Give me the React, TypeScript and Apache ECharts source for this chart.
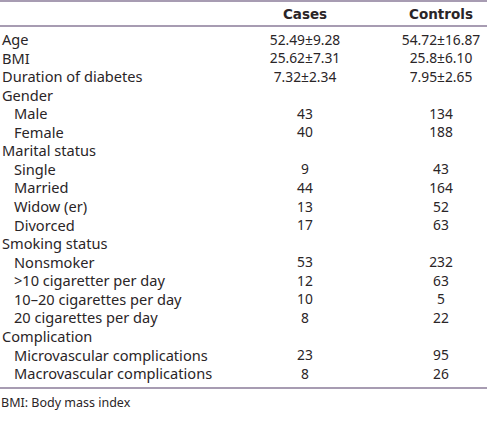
import React, { useEffect, useRef } from "react";
import * as echarts from "echarts";

const headers = ["", "Cases", "Controls"];
const rowLabels = [
  "Age", "BMI", "Duration of diabetes", "Gender", "Male", "Female",
  "Marital status", "Single", "Married", "Widow (er)", "Divorced",
  "Smoking status", "Nonsmoker", ">10 cigaretter per day", "10–20 cigarettes per day",
  "20 cigarettes per day", "Complication", "Microvascular complications", "Macrovascular complications",
];
const indented = [false, false, false, false, true, true, false, true, true, true, true, false, true, true, true, true, false, true, true];
const casesValues = ["52.49±9.28", "25.62±7.31", "7.32±2.34", "", "43", "40", "", "9", "44", "13", "17", "", "53", "12", "10", "8", "", "23", "8"];
const controlsValues = ["54.72±16.87", "25.8±6.10", "7.95±2.65", "", "134", "188", "", "43", "164", "52", "63", "", "232", "63", "5", "22", "", "95", "26"];
const footnote = "BMI: Body mass index";

export default function App() {
  const ref = useRef<HTMLDivElement>(null);
  useEffect(() => {
    document.body.style.margin = "0";
    const chart = echarts.init(ref.current!, null, { renderer: "svg" });
    const font = '"Noto Sans", sans-serif';
    const boldFont = '"DejaVu Sans", sans-serif';
    const color = "#2a2527";
    const lineColor = "#8a7b98";
    const col1 = 305;
    const col2 = 441;
    const y0 = 39;
    const step = 18.56;
    const els: any[] = [];
    const line = (y: number) => ({
      type: "line",
      shape: { x1: 0, y1: y, x2: 487, y2: y },
      style: { stroke: lineColor, lineWidth: 1.5 },
    });
    els.push(line(1), line(26), line(388));
    els.push({ type: "text", x: col1, y: 14, style: { text: headers[1], font: `bold 13.5px ${boldFont}`, fill: color, align: "center", verticalAlign: "middle" } });
    els.push({ type: "text", x: col2, y: 14, style: { text: headers[2], font: `bold 13.5px ${boldFont}`, fill: color, align: "center", verticalAlign: "middle" } });
    rowLabels.forEach((lab, i) => {
      const y = y0 + i * step;
      els.push({ type: "text", x: indented[i] ? 14 : 2, y, style: { text: lab, font: `14.6px ${font}`, fill: color, align: "left", verticalAlign: "middle" } });
      if (casesValues[i]) els.push({ type: "text", x: col1, y, style: { text: casesValues[i], font: `13.8px ${font}`, fill: color, align: "center", verticalAlign: "middle" } });
      if (controlsValues[i]) els.push({ type: "text", x: col2, y, style: { text: controlsValues[i], font: `13.8px ${font}`, fill: color, align: "center", verticalAlign: "middle" } });
    });
    els.push({ type: "text", x: 1, y: 402, style: { text: footnote, font: `12.5px ${font}`, fill: color, align: "left", verticalAlign: "middle" } });
    chart.setOption({ animation: false, backgroundColor: "#ffffff", graphic: { elements: els } });
    return () => chart.dispose();
  }, []);
  return <div ref={ref} style={{ width: 487, height: 427 }} />;
}
